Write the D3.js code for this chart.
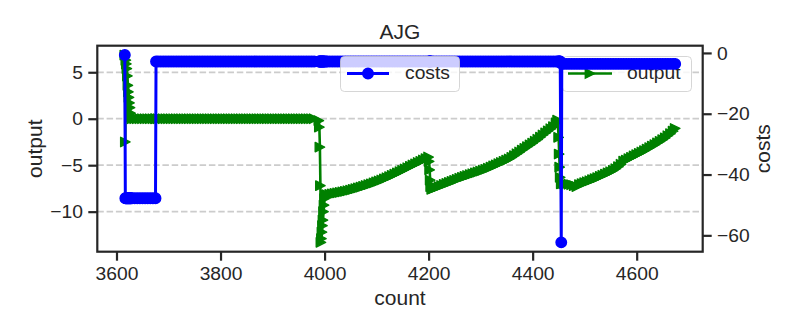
<!DOCTYPE html>
<html>
<head>
<meta charset="utf-8">
<script src="https://cdn.jsdelivr.net/npm/d3@7"></script>
<style>
  body { margin: 0; background: #ffffff; }
  svg { display: block; }
  text { font-family: "Liberation Sans", Arial, sans-serif; fill: #262626; }
</style>
</head>
<body>
<svg id="chart" width="799" height="333"></svg>
<script>
// ---- data -------------------------------------------------------------
const chartTitle = "AJG";
const xLabel = "count";
const yLabel = "output";
const y2Label = "costs";
const xTicks = [3600, 3800, 4000, 4200, 4400, 4600];
const yTicks = [5, 0, -5, -10];
const y2Ticks = [0, -20, -40, -60];

const counts = [
  3616,3617,3618,3619,3620,3621,3622,3623,3624,3625,3626,3627,3628,
  3630,3635,3640,3645,3650,3655,3660,3665,3670,3675,
  3676,
  3680,3685,3690,3695,3700,3705,3710,3715,3720,3725,
  3730,3735,3740,3745,3750,3755,3760,3765,3770,3775,
  3780,3785,3790,3795,3800,3805,3810,3815,3820,3825,
  3830,3835,3840,3845,3850,3855,3860,3865,3870,3875,
  3880,3885,3890,3895,3900,3905,3910,3915,3920,3925,
  3930,3935,3940,3945,3950,3955,3960,3965,3970,3975,
  3980,
  3989,3990,3991,3992,3993,3994,3995,3996,3997,3998,3999,4000,4003,
  4005,4010,4015,4020,4025,4030,4035,4040,4045,4050,
  4055,4060,4065,4070,4075,4080,4085,4090,4095,4100,
  4105,4110,4115,4120,4125,4130,4135,4140,4145,4150,
  4155,4160,4165,4170,4175,4180,4185,4190,4195,4200,
  4201,4202,4203,4204,
  4206,
  4210,4215,4220,4225,4230,4235,4240,4245,4250,4255,
  4260,4265,4270,4275,4280,4285,4290,4295,4300,4305,
  4310,4315,4320,4325,4330,4335,4340,4345,4350,4355,
  4360,4365,4370,4375,4380,4385,4390,4395,4400,4405,
  4410,4415,4420,4425,4430,4435,4440,4445,
  4448,
  4450,4451,4452,4453,
  4455,4456,
  4460,4465,4470,4475,4480,4485,4490,4495,4500,4505,
  4510,4515,4520,4525,4530,4535,4540,4545,4550,4555,
  4560,4565,4570,4575,4580,4585,4590,4595,4600,4605,
  4610,4615,4620,4625,4630,4635,4640,4645,4650,4655,
  4660,4665,4670,
  4674
];

const output = [
  6.85,-2.5,6.3,5.9,5.4,4.6,3.6,2.9,2.3,1.7,1.2,0.6,0.2,
  0,0,0,0,0,0,0,0,0,0,
  0,
  0,0,0,0,0,0,0,0,0,0,
  0,0,0,0,0,0,0,0,0,0,
  0,0,0,0,0,0,0,0,0,0,
  0,0,0,0,0,0,0,0,0,0,
  0,0,0,0,0,0,0,0,0,0,
  0,0,0,0,0,0,0,0,0,0,
  0,
  -0.2,-0.9,-3.05,-7.2,-13.3,-12.9,-12.2,-11.5,-10.9,-10.0,-9.3,-8.6,-8.25,
  -8.18,-8.13,-8.08,-8.03,-7.98,-7.93,-7.87,-7.81,-7.75,-7.68,
  -7.60,-7.52,-7.44,-7.36,-7.27,-7.18,-7.09,-7.00,-6.90,-6.80,
  -6.70,-6.59,-6.47,-6.35,-6.22,-6.09,-5.96,-5.83,-5.69,-5.55,
  -5.41,-5.27,-5.12,-4.98,-4.85,-4.71,-4.58,-4.44,-4.30,-4.12,
  -4.6,-5.5,-6.6,-7.3,
  -7.60,
  -7.51,-7.40,-7.29,-7.18,-7.07,-6.96,-6.85,-6.74,-6.63,-6.52,
  -6.40,-6.30,-6.21,-6.11,-6.02,-5.92,-5.82,-5.73,-5.63,-5.54,
  -5.44,-5.33,-5.21,-5.08,-4.96,-4.83,-4.71,-4.58,-4.46,-4.33,
  -4.15,-3.96,-3.77,-3.58,-3.38,-3.19,-3.00,-2.81,-2.62,-2.42,
  -2.21,-1.98,-1.75,-1.53,-1.30,-1.08,-0.85,-0.45,
  -0.15,
  -2.0,-3.8,-5.2,-6.3,
  -7.0,-7.0,
  -7.00,-7.02,-7.05,-7.10,-7.20,-7.30,-7.08,-6.98,-6.88,-6.78,
  -6.67,-6.56,-6.45,-6.33,-6.20,-6.08,-5.95,-5.82,-5.70,-5.55,
  -5.38,-5.15,-4.90,-4.57,-4.45,-4.30,-4.15,-4.00,-3.87,-3.73,
  -3.58,-3.43,-3.27,-3.10,-2.94,-2.78,-2.60,-2.43,-2.25,-2.05,
  -1.83,-1.60,-1.33,
  -1.05
];

const costs = [
  -0.7,-47.8,-47.8,-47.8,-47.8,-47.8,-47.8,-47.8,-47.8,-47.8,-47.8,-47.8,-47.8,
  -47.8,-47.8,-47.8,-47.8,-47.8,-47.8,-47.8,-47.8,-47.8,-47.8,
  -2.8,
  -2.8,-2.8,-2.8,-2.8,-2.8,-2.8,-2.8,-2.8,-2.8,-2.8,
  -2.8,-2.8,-2.8,-2.8,-2.8,-2.8,-2.8,-2.8,-2.8,-2.8,
  -2.8,-2.8,-2.8,-2.8,-2.8,-2.8,-2.8,-2.8,-2.8,-2.8,
  -2.8,-2.8,-2.8,-2.8,-2.8,-2.8,-2.8,-2.8,-2.8,-2.8,
  -2.8,-2.8,-2.8,-2.8,-2.8,-2.8,-2.8,-2.8,-2.8,-2.8,
  -2.8,-2.8,-2.8,-2.8,-2.8,-2.8,-2.8,-2.8,-2.8,-2.8,
  -2.8,
  -2.8,-2.8,-2.8,-2.8,-2.8,-2.8,-2.8,-2.8,-2.8,-2.8,-2.8,-2.8,-2.8,
  -2.8,-2.8,-2.8,-2.8,-2.8,-2.8,-2.8,-2.8,-2.8,-2.8,
  -2.8,-2.8,-2.8,-2.8,-2.8,-2.8,-2.8,-2.8,-2.8,-2.8,
  -2.8,-2.8,-2.8,-2.8,-2.8,-2.8,-2.8,-2.8,-2.8,-2.8,
  -2.8,-2.8,-2.8,-2.8,-2.8,-2.8,-2.8,-2.8,-2.8,-2.8,
  -2.8,-2.8,-2.8,-2.8,
  -2.8,
  -2.8,-2.8,-2.8,-2.8,-2.8,-2.8,-2.8,-2.8,-2.8,-2.8,
  -2.8,-2.8,-2.8,-2.8,-2.8,-2.8,-2.8,-2.8,-2.8,-2.8,
  -2.8,-2.8,-2.8,-2.8,-2.8,-2.8,-2.8,-2.8,-2.8,-2.8,
  -2.8,-2.8,-2.8,-2.8,-2.8,-2.8,-2.8,-2.8,-2.8,-2.8,
  -2.8,-2.8,-2.8,-2.8,-2.8,-2.8,-2.8,-2.8,
  -2.8,
  -2.8,-2.8,-2.8,-2.8,
  -62.3,-3.6,
  -3.6,-3.6,-3.6,-3.6,-3.6,-3.6,-3.6,-3.6,-3.6,-3.6,
  -3.6,-3.6,-3.6,-3.6,-3.6,-3.6,-3.6,-3.6,-3.6,-3.6,
  -3.6,-3.6,-3.6,-3.6,-3.6,-3.6,-3.6,-3.6,-3.6,-3.6,
  -3.6,-3.6,-3.6,-3.6,-3.6,-3.6,-3.6,-3.6,-3.6,-3.6,
  -3.6,-3.6,-3.6,
  -3.6
];

// ---- layout -----------------------------------------------------------
const frame = { left: 97.3, right: 702.7, top: 45.7, bottom: 251.7 };
const ink = "#262626";
const tickFont = 19.25, labelFont = 21;
const outColor = "green", costColor = "blue";

// axis limits padded by 5% of the data span on each side
function padded(values) {
  const [lo, hi] = d3.extent(values);
  const m = (hi - lo) * 0.05;
  return [lo - m, hi + m];
}

const x = d3.scaleLinear().domain(padded(counts)).range([frame.left, frame.right]);
const y = d3.scaleLinear().domain(padded(output)).range([frame.bottom, frame.top]);
const y2 = d3.scaleLinear().domain(padded(costs)).range([frame.bottom, frame.top]);

const rows = counts.map((c, i) => ({ c, out: output[i], cost: costs[i] }));

const svg = d3.select("#chart");
svg.append("rect").attr("width", 799).attr("height", 333).attr("fill", "#ffffff");

// horizontal grid on the output axis
svg.append("g")
  .selectAll("line")
  .data(yTicks)
  .join("line")
  .attr("x1", frame.left).attr("x2", frame.right)
  .attr("y1", d => y(d)).attr("y2", d => y(d))
  .attr("stroke", "#cccccc").attr("stroke-width", 1.75)
  .attr("stroke-dasharray", "6.5,2.8");

// right-pointing triangle marker
const triS = 4.7;
function triRight(cx, cy, s) {
  return `M${cx - s},${cy - s}L${cx + s},${cy}L${cx - s},${cy + s}Z`;
}

// output series (left axis)
const gOut = svg.append("g");
gOut.append("path")
  .datum(rows)
  .attr("fill", "none")
  .attr("stroke", outColor)
  .attr("stroke-width", 2.6)
  .attr("stroke-linejoin", "round")
  .attr("d", d3.line().x(d => x(d.c)).y(d => y(d.out)));
gOut.selectAll("path.m")
  .data(rows)
  .join("path")
  .attr("class", "m")
  .attr("d", d => triRight(x(d.c), y(d.out), triS))
  .attr("fill", outColor)
  .attr("stroke", outColor)
  .attr("stroke-width", 1.4)
  .attr("stroke-linejoin", "round");

// legend box with a translucent white face
function legendBox(g, bx, by, bw, bh) {
  g.append("rect")
    .attr("x", bx).attr("y", by).attr("width", bw).attr("height", bh)
    .attr("rx", 4).attr("ry", 4)
    .attr("fill", "#ffffff").attr("fill-opacity", 0.8)
    .attr("stroke", "#cccccc").attr("stroke-opacity", 0.8).attr("stroke-width", 1);
}
const legOut = svg.append("g");
legendBox(legOut, 562.5, 56.5, 129, 35);
legOut.append("line")
  .attr("x1", 568).attr("x2", 612).attr("y1", 73.5).attr("y2", 73.5)
  .attr("stroke", outColor).attr("stroke-width", 2.6);
legOut.append("path")
  .attr("d", triRight(590, 73.5, triS))
  .attr("fill", outColor).attr("stroke", outColor).attr("stroke-width", 1.4);
legOut.append("text")
  .attr("x", 627).attr("y", 79)
  .attr("font-size", tickFont)
  .text(yLabel);

// costs series (right axis)
const gCost = svg.append("g");
gCost.append("path")
  .datum(rows)
  .attr("fill", "none")
  .attr("stroke", costColor)
  .attr("stroke-width", 3)
  .attr("stroke-linejoin", "round")
  .attr("d", d3.line().x(d => x(d.c)).y(d => y2(d.cost)));
gCost.selectAll("circle")
  .data(rows)
  .join("circle")
  .attr("cx", d => x(d.c))
  .attr("cy", d => y2(d.cost))
  .attr("r", 5.2)
  .attr("fill", costColor)
  .attr("stroke", costColor)
  .attr("stroke-width", 1.5);

// legend box for the costs series
const legCost = svg.append("g");
legendBox(legCost, 340.5, 56.5, 119, 35);
legCost.append("line")
  .attr("x1", 347).attr("x2", 389).attr("y1", 73.5).attr("y2", 73.5)
  .attr("stroke", costColor).attr("stroke-width", 3);
legCost.append("circle")
  .attr("cx", 368).attr("cy", 73.5).attr("r", 5.2)
  .attr("fill", costColor).attr("stroke", costColor).attr("stroke-width", 1.5);
legCost.append("text")
  .attr("x", 405).attr("y", 79)
  .attr("font-size", tickFont)
  .text(y2Label);

// frame
svg.append("rect")
  .attr("x", frame.left).attr("y", frame.top)
  .attr("width", frame.right - frame.left).attr("height", frame.bottom - frame.top)
  .attr("fill", "none").attr("stroke", ink).attr("stroke-width", 2.2);

// axes
function styleAxis(g) {
  g.select(".domain").remove();
  g.attr("font-family", null).attr("font-size", null);
  g.selectAll(".tick line").attr("stroke", ink).attr("stroke-width", 2.2);
  g.selectAll(".tick text")
    .attr("fill", ink)
    .attr("font-size", tickFont)
    .style("font-family", '"Liberation Sans", Arial, sans-serif');
}
const fmt = d3.format("d");
svg.append("g")
  .attr("transform", `translate(0,${frame.bottom})`)
  .call(d3.axisBottom(x).tickValues(xTicks).tickFormat(fmt).tickSize(9).tickPadding(5.3))
  .call(styleAxis);
svg.append("g")
  .attr("transform", `translate(${frame.left},0)`)
  .call(d3.axisLeft(y).tickValues(yTicks).tickFormat(fmt).tickSize(9).tickPadding(5.3))
  .call(styleAxis);
svg.append("g")
  .attr("transform", `translate(${frame.right},0)`)
  .call(d3.axisRight(y2).tickValues(y2Ticks).tickFormat(fmt).tickSize(9).tickPadding(5.3))
  .call(styleAxis);

// titles
const midX = (frame.left + frame.right) / 2;
const midY = (frame.top + frame.bottom) / 2;
svg.append("text")
  .attr("x", midX).attr("y", 39)
  .attr("text-anchor", "middle")
  .attr("font-size", labelFont)
  .text(chartTitle);
svg.append("text")
  .attr("x", midX).attr("y", 305)
  .attr("text-anchor", "middle")
  .attr("font-size", labelFont)
  .text(xLabel);
svg.append("text")
  .attr("transform", `translate(42,${midY}) rotate(-90)`)
  .attr("text-anchor", "middle")
  .attr("font-size", labelFont)
  .text(yLabel);
svg.append("text")
  .attr("transform", `translate(770,${midY}) rotate(-90)`)
  .attr("text-anchor", "middle")
  .attr("font-size", labelFont)
  .text(y2Label);
</script>
</body>
</html>
